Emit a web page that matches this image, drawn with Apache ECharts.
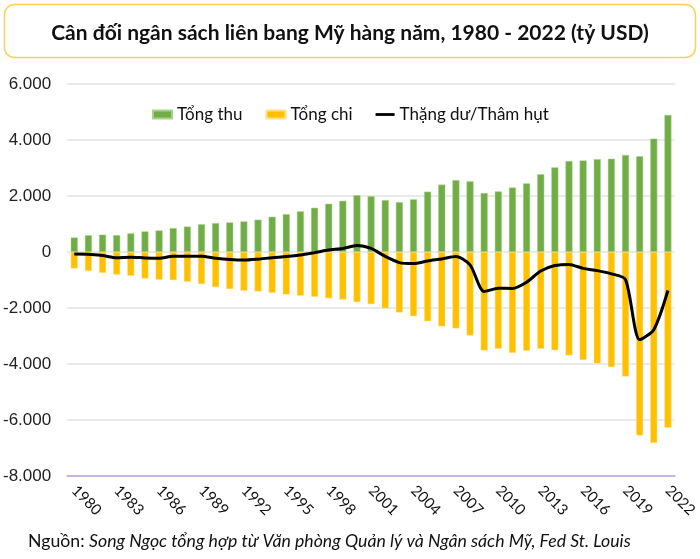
<!DOCTYPE html>
<html>
<head>
<meta charset="utf-8">
<script src="https://cdn.jsdelivr.net/npm/echarts@6/dist/echarts.min.js"></script>
<style>
html,body{margin:0;padding:0;background:#fff;}
#chart{width:700px;height:559px;}
</style>
</head>
<body>
<div id="chart"></div>
<script>
var years = ['1980','1981','1982','1983','1984','1985','1986','1987','1988','1989','1990','1991','1992','1993','1994','1995','1996','1997','1998','1999','2000','2001','2002','2003','2004','2005','2006','2007','2008','2009','2010','2011','2012','2013','2014','2015','2016','2017','2018','2019','2020','2021','2022'];
var receipts = [517,599,618,601,666,734,769,854,909,991,1032,1055,1091,1154,1259,1352,1453,1579,1722,1828,2025,1991,1853,1782,1880,2154,2407,2568,2524,2105,2163,2304,2450,2775,3022,3250,3268,3316,3330,3463,3421,4047,4897];
var outlays = [-591,-678,-746,-808,-852,-946,-990,-1004,-1064,-1144,-1253,-1324,-1382,-1409,-1462,-1516,-1561,-1601,-1653,-1702,-1789,-1863,-2011,-2160,-2293,-2472,-2655,-2729,-2983,-3518,-3457,-3603,-3527,-3455,-3506,-3692,-3853,-3982,-4109,-4447,-6554,-6823,-6273];
var balance = [-74,-79,-128,-208,-185,-212,-221,-150,-155,-153,-221,-269,-290,-255,-203,-164,-107,-22,69,126,236,128,-158,-378,-413,-318,-248,-161,-459,-1413,-1294,-1300,-1077,-680,-485,-442,-585,-665,-779,-984,-3133,-2775,-1376];
var yTicks = {min: -8000, max: 6000, interval: 2000};

var chart = echarts.init(document.getElementById('chart'));
function fmt(v){
  var s = Math.abs(v).toString();
  s = s.replace(/\B(?=(\d{3})+(?!\d))/g, '.');
  return (v < 0 ? '-' : '') + s;
}
chart.setOption({
  animation: false,
  backgroundColor: '#fff',
  title: {
    text: 'Cân đối ngân sách liên bang Mỹ hàng năm, 1980 - 2022 (tỷ USD)',
    left: 'center', top: 18,
    textStyle: {fontFamily: 'Lato', fontWeight: 'bold', fontSize: 21, color: '#111'}
  },
  graphic: [
    {type: 'rect', shape: {x: 4.5, y: 4.5, width: 691, height: 53, r: 10},
     style: {fill: 'none', stroke: '#FAD25A', lineWidth: 1.5}, z: -1},
    {type: 'text', left: 28, top: 532,
     style: {text: '{n|Nguồn: }{i|Song Ngọc tổng hợp từ Văn phòng Quản lý và Ngân sách Mỹ, Fed St. Louis}',
       rich: {n: {fontFamily: 'Lato', fontSize: 17.7, fill: '#111'},
              i: {fontFamily: 'Lato', fontSize: 17.7, fontStyle: 'italic', fill: '#111'}}}}
  ],
  legend: {
    left: 147, top: 101,
    itemWidth: 19, itemHeight: 8, itemGap: 23,
    textStyle: {fontFamily: 'Lato', fontSize: 17, color: '#111'},
    data: [
      {name: 'Tổng thu', icon: 'rect'},
      {name: 'Tổng chi', icon: 'rect'},
      {name: 'Thặng dư/Thâm hụt', icon: 'path://M0,0 M0,8 M0,2.6 L19,2.6 L19,5.4 L0,5.4 Z'}
    ]
  },
  grid: {left: 66, right: 25, top: 84, bottom: 83, containLabel: false},
  xAxis: [
    {type: 'category', data: years, position: 'bottom',
     axisLine: {show: false}, axisTick: {show: false},
     axisLabel: {interval: 2, rotate: -45, margin: 12, fontFamily: 'Lato', fontSize: 15, color: '#111'}},
    {type: 'category', data: years, position: 'bottom',
     axisLine: {show: true, onZero: true, lineStyle: {color: '#B9A5DA', width: 1.5}},
     axisTick: {show: false}, axisLabel: {show: false}}
  ],
  yAxis: {
    type: 'value', min: yTicks.min, max: yTicks.max, interval: yTicks.interval,
    axisLine: {show: false}, axisTick: {show: false},
    splitLine: {lineStyle: {color: '#E3E3E3', width: 1.5}},
    axisLabel: {formatter: fmt, fontFamily: 'Liberation Sans', fontSize: 17, color: '#222', margin: 16}
  },
  series: [
    {name: 'Tổng thu', type: 'bar', data: receipts, barWidth: 7, barGap: '-100%',
     itemStyle: {color: '#70AD47', borderColor: '#A9D18E', borderWidth: 0.5}},
    {name: 'Tổng chi', type: 'bar', data: outlays, barWidth: 7,
     itemStyle: {color: '#FFC000', borderColor: '#FFE08A', borderWidth: 0.5}},
    {name: 'Thặng dư/Thâm hụt', type: 'line', data: balance, symbol: 'none', smooth: 0.25, z: 5,
     lineStyle: {color: '#000', width: 3}, itemStyle: {color: '#000'}}
  ]
});
</script>
</body>
</html>
